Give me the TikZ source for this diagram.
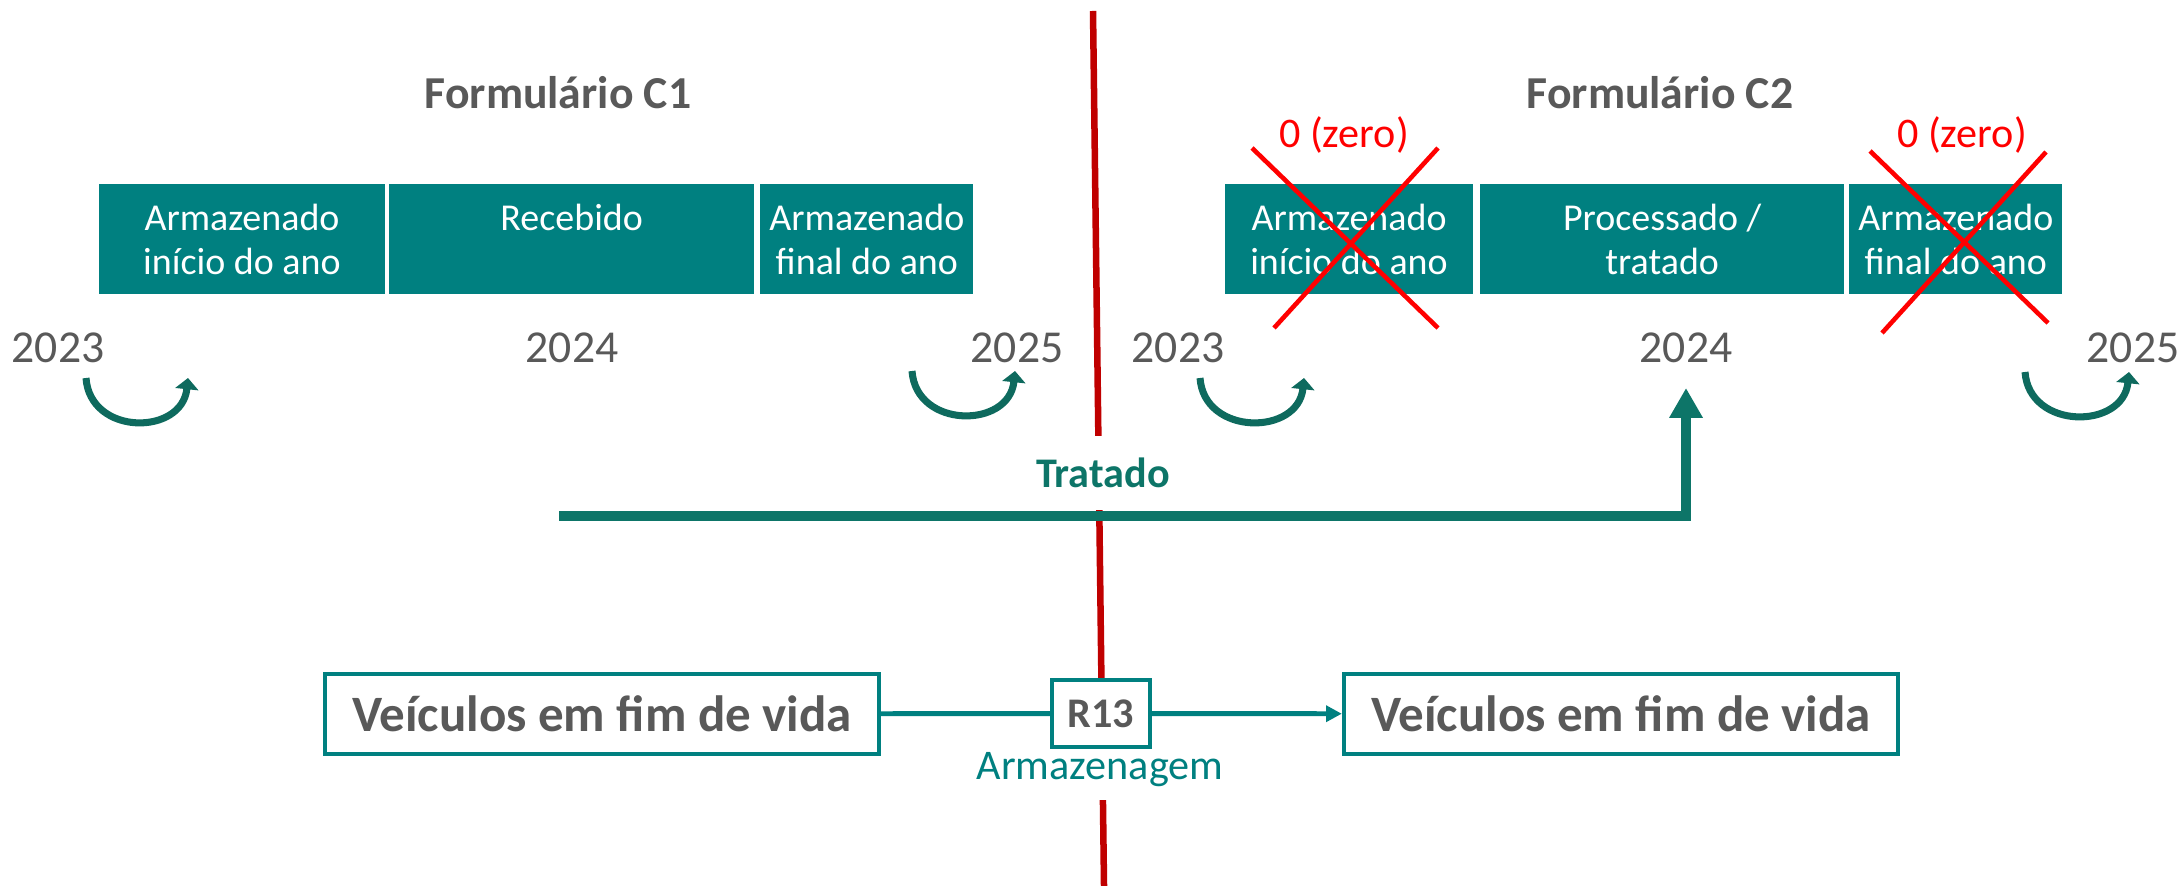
\documentclass[tikz,border=0pt]{standalone}
\usepackage{fontspec}
\setmainfont{Carlito}
\usetikzlibrary{arrows.meta,positioning}
\definecolor{boxteal}{RGB}{0,128,128}
\definecolor{flowteal}{RGB}{13,117,104}
\definecolor{loopteal}{RGB}{14,106,94}
\definecolor{txtgray}{RGB}{89,89,89}
\definecolor{cutred}{RGB}{192,0,0}
\definecolor{zerored}{RGB}{255,0,0}
\tikzstyle{cell}=[rectangle,fill=boxteal,text=white,align=center,inner sep=0pt,
  outer sep=0pt,minimum height=1.1cm,font=\fontsize{10.8}{12.5}\selectfont]
\tikzstyle{year}=[anchor=base,text=txtgray,font=\fontsize{13}{15}\selectfont]
\tikzstyle{formtitle}=[anchor=base,text=txtgray,font=\bfseries\fontsize{13}{15}\selectfont]
\tikzstyle{zero}=[anchor=base,text=zerored,font=\fontsize{12}{14}\selectfont]
\tikzstyle{cross}=[draw=zerored,line width=1.3pt]
\tikzstyle{loop}=[draw=loopteal,line width=2pt,-{Triangle[length=3.2pt,width=6.5pt]}]
\tikzstyle{flow}=[draw=flowteal,line width=2.8pt,-{Triangle[length=8.5pt,width=9pt]}]
\tikzstyle{wastebox}=[rectangle,draw=boxteal,line width=1.15pt,fill=white,text=txtgray,
  minimum width=5.54cm,minimum height=0.80cm,font=\bfseries\fontsize{14.5}{17}\selectfont]
\tikzstyle{opbox}=[rectangle,draw=boxteal,line width=1.15pt,fill=white,text=txtgray,
  minimum width=0.98cm,minimum height=0.67cm,font=\bfseries\fontsize{12}{14}\selectfont]
\tikzstyle{link}=[draw=boxteal,line width=1.4pt]

\begin{document}
\begin{tikzpicture}[x=0.01cm,y=-0.01cm]
  \useasboundingbox (0,0) rectangle (2183,886);

  % form C1
  \node[formtitle] (t1) at (558,109) {Formulário C1};
  \node[cell,minimum width=2.86cm] (b1) at (242,239) {Armazenado\\início do ano};
  \node[cell,minimum width=3.65cm] (b2) [right=0.04cm of b1] {Recebido\\\phantom{início}};
  \node[cell,minimum width=2.13cm] (b3) [right=0.06cm of b2] {Armazenado\\final do ano};

  \node[year] (y23a) at (58,363) {2023};
  \node[year] (y24a) at (572,363) {2024};
  \node[year] (y25a) at (1017,363) {2025};

  \draw[loop] (86,378) .. controls (90,436) and (182,436) .. (188,378);
  \draw[loop] (912,371) .. controls (916,429) and (1009,429) .. (1015,371);

  % form C2
  \node[formtitle] (t2) at (1660,109) {Formulário C2};
  \node[cell,minimum width=2.48cm] (b4) at (1349,239) {Armazenado\\início do ano};
  \node[cell,minimum width=3.64cm] (b5) [right=0.07cm of b4] {Processado /\\tratado};
  \node[cell,minimum width=2.13cm] (b6) [right=0.05cm of b5] {Armazenado\\final do ano};

  \node[year] (y23b) at (1178,363) {2023};
  \node[year] (y24b) at (1686,363) {2024};
  \node[year] (y25b) at (2133,363) {2025};

  \draw[loop] (1200,378) .. controls (1204,436) and (1298,436) .. (1304,378);
  \draw[loop] (2025,372) .. controls (2029,430) and (2123,430) .. (2129,372);

  \node[zero] (z1) at (1344,148) {0 (zero)};
  \node[zero] (z2) at (1962,148) {0 (zero)};
  \draw[cross] (1252,148) -- (1438,328);
  \draw[cross] (1438,148) -- (1274,328);
  \draw[cross] (1870,151) -- (2048,323);
  \draw[cross] (2046,152) -- (1882,333);

  % split line
  \draw[cutred,line width=1.85pt] (1093,11) -- (1104,886);

  \node[anchor=base,fill=white,inner xsep=2pt,inner ysep=6.3pt,text=flowteal,
    font=\bfseries\fontsize{12}{14}\selectfont] (trlabel) at (1103,488) {Tratado};
  \coordinate (trstart) at (559,516);
  \coordinate (trtip) at (1686,388);
  \draw[flow] (trstart) -| (trtip);

  % vehicles flow
  \node[wastebox] (vl) at (602,714) {Veículos em fim de vida};
  \node[wastebox] (vr) at (1621,714) {Veículos em fim de vida};
  \node[anchor=base,fill=white,inner xsep=2pt,inner ysep=4pt,text=boxteal,
    font=\fontsize{12}{14}\selectfont] (store) at (1100,779) {Armazenagem};
  \node[opbox] (r13) at (1101,713.5) {R13};

  \draw[link] (vl) -- (r13);
  \draw[link,-{Triangle[length=4.5pt,width=4.5pt]}] (r13) -- (vr);
\end{tikzpicture}
\end{document}
